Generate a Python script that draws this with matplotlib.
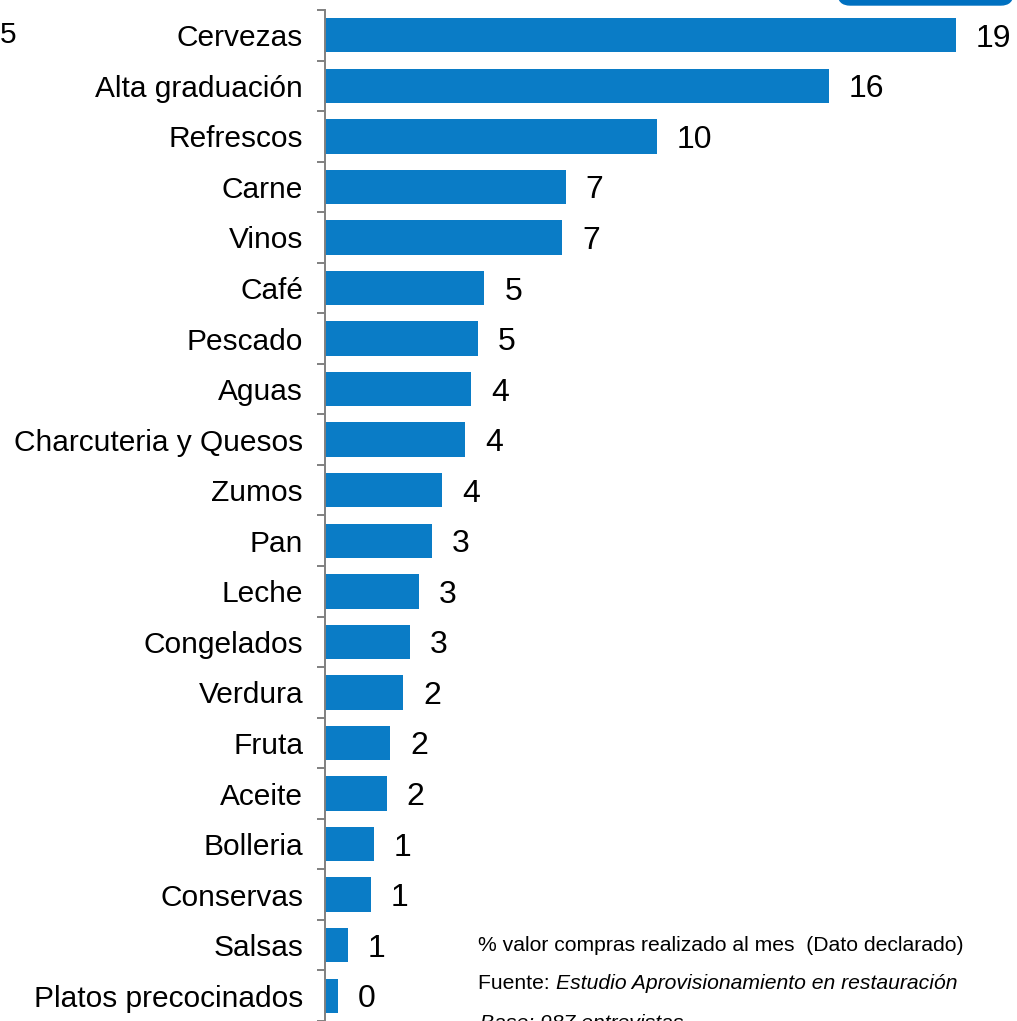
import numpy as np
from matplotlib import pyplot as plt
from matplotlib.patches import FancyBboxPatch

categories = ['Cervezas', 'Alta graduación', 'Refrescos', 'Carne', 'Vinos', 'Café',
              'Pescado', 'Aguas', 'Charcuteria y Quesos', 'Zumos', 'Pan', 'Leche',
              'Congelados', 'Verdura', 'Fruta', 'Aceite', 'Bolleria', 'Conservas',
              'Salsas', 'Platos precocinados']
values = [19.4, 15.5, 10.2, 7.4, 7.3, 4.9, 4.7, 4.5, 4.3, 3.6, 3.3, 2.9, 2.6, 2.4,
          2.0, 1.9, 1.5, 1.4, 0.7, 0.4]
value_labels = ['19', '16', '10', '7', '7', '5', '5', '4', '4', '4', '3', '3', '3',
                '2', '2', '2', '1', '1', '1', '0']

plt.rcParams['font.family'] = ['Liberation Sans', 'DejaVu Sans']

W, H = 1017, 1021
fig = plt.figure(figsize=(W / 100, H / 100), dpi=100)
ax = fig.add_axes([325 / W, 0.0, 1 - 325 / W, 1 - 10 / H])

bar_color = '#0A7CC6'
y = np.arange(len(categories))
ax.barh(y, values, height=0.68, color=bar_color)
ax.set_ylim(len(categories) - 0.5, -0.5)
ax.set_xlim(0, 692 / 32.5)

for yi, v, lab in zip(y, values, value_labels):
    ax.annotate(lab, xy=(v, yi), xytext=(20, 0), textcoords='offset pixels',
                ha='left', va='center_baseline', fontsize=23, color='black')

# category labels on major ticks, gray separator ticks between bars
ax.set_yticks(y)
ax.set_yticklabels(categories, fontsize=21.5)
ax.set_yticks(np.arange(-0.5, len(categories)), minor=True)
ax.tick_params(axis='y', which='major', length=0, pad=15.8)
ax.tick_params(axis='y', which='minor', length=5.8, width=1.4, color='#808080')
ax.set_xticks([])
for s in ['top', 'right', 'bottom']:
    ax.spines[s].set_visible(False)
ax.spines['left'].set_color('#808080')
ax.spines['left'].set_linewidth(1.4)

# leftover pieces from the cropped slide
fig.text(0.0, 1 - 35 / H, '5', ha='left', va='center', fontsize=21.5)
box = FancyBboxPatch((838 / W, 1 - 5 / H), 175 / W, 40 / H,
                     boxstyle='round,pad=0,rounding_size=0.012',
                     transform=fig.transFigure, color='#0070C0', clip_on=False)
fig.patches.append(box)

# footnote
fs = 15.2
fig.text(478 / W, 1 - 945 / H, '% valor compras realizado al mes  (Dato declarado)',
         ha='left', va='center', fontsize=fs)
t1 = fig.text(478 / W, 1 - 983 / H, 'Fuente: ', ha='left', va='center', fontsize=fs)
ax.annotate('Estudio Aprovisionamiento en restauración', xy=(1, 0.5), xycoords=t1,
            ha='left', va='center', fontsize=fs, style='italic',
            annotation_clip=False)
fig.text(480 / W, 1 - 1023 / H, 'Base: 987 entrevistas', ha='left', va='center',
         fontsize=fs, style='italic')

fig.savefig('out.png', dpi=100)
